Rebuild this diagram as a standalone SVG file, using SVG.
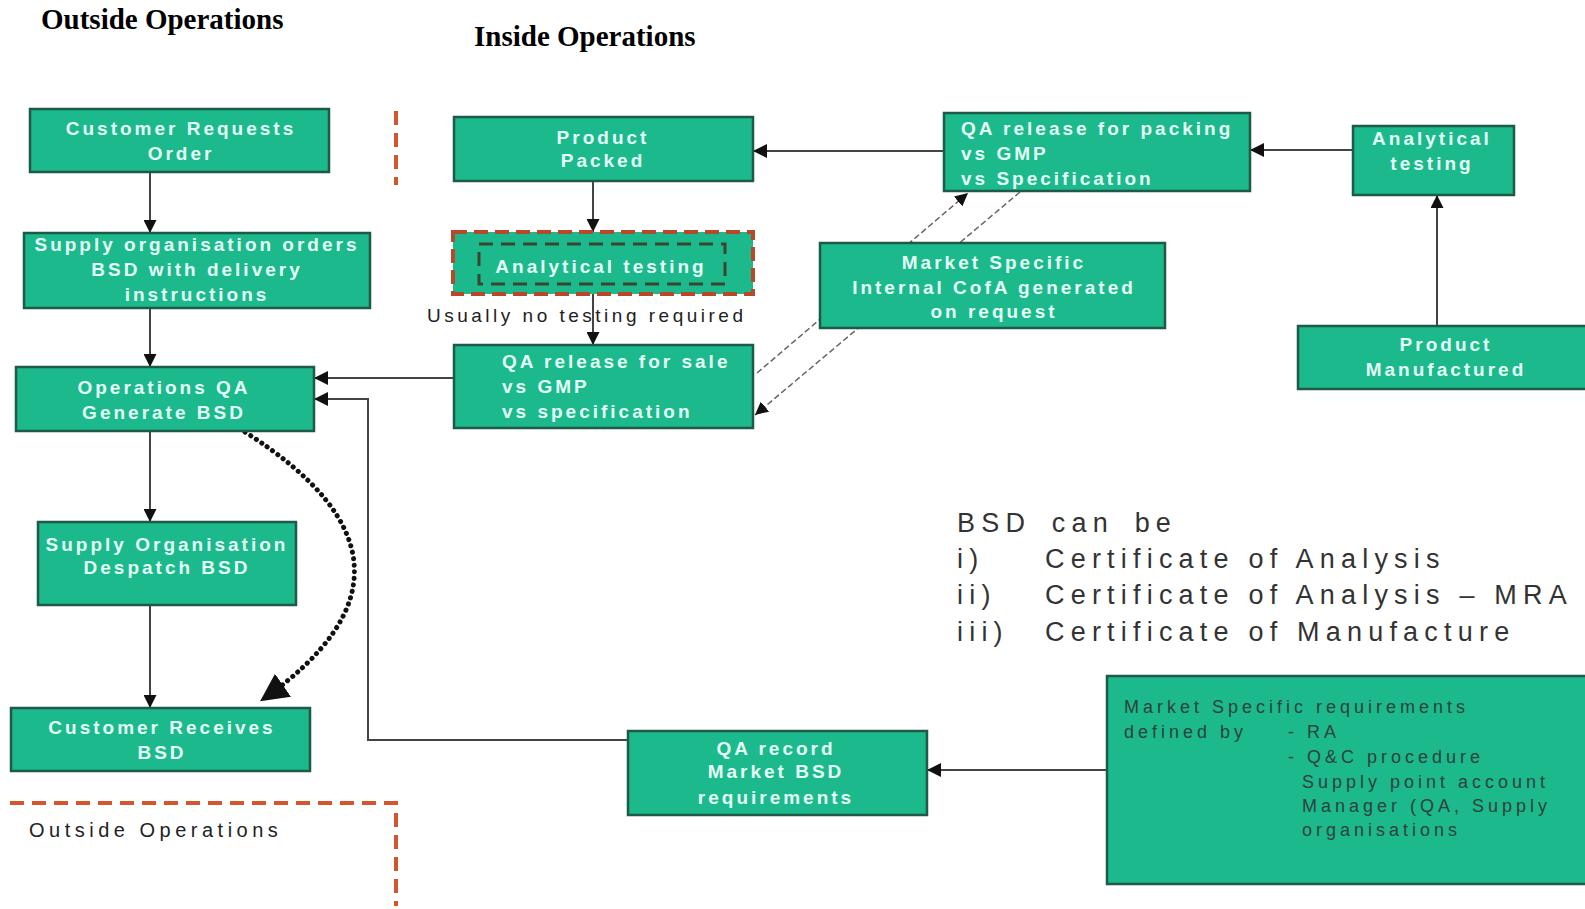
<svg xmlns="http://www.w3.org/2000/svg" width="1585" height="909" viewBox="0 0 1585 909">
<style>
.box{fill:#1bb98c;stroke:#1d5a47;stroke-width:2.5}
.t{font-family:"Liberation Sans",Arial,sans-serif;font-weight:bold;font-size:19px;fill:#e4fff5;letter-spacing:3px}
.c{text-anchor:middle}
.dk{font-family:"Liberation Sans",Arial,sans-serif;font-size:18px;fill:#2f423b;letter-spacing:4px}
.lbl{font-family:"Liberation Sans",Arial,sans-serif;font-size:19px;fill:#222;letter-spacing:3.5px}
.title{font-family:"Liberation Serif","Times New Roman",serif;font-weight:bold;font-size:29px;fill:#000}
.bsd{font-family:"Liberation Sans",Arial,sans-serif;font-size:27px;fill:#333;letter-spacing:6.2px}
.ln{stroke:#444;stroke-width:2;fill:none}
.red{stroke:#d4552c;stroke-width:4;fill:none;stroke-dasharray:14 8}
.dash{stroke:#666;stroke-width:1.5;fill:none;stroke-dasharray:6 3}
</style>
<defs>
<marker id="ah" viewBox="0 0 12 12" refX="12" refY="6" markerWidth="13" markerHeight="13" markerUnits="userSpaceOnUse" orient="auto"><path d="M0,0 L12,6 L0,12 z" fill="#111"/></marker>
<marker id="ahs" viewBox="0 0 12 12" refX="12" refY="6" markerWidth="14" markerHeight="14" markerUnits="userSpaceOnUse" orient="auto"><path d="M0,0 L12,6 L0,12 z" fill="#111"/></marker>
<marker id="ahb" viewBox="0 0 12 12" refX="11" refY="6" markerWidth="28" markerHeight="28" markerUnits="userSpaceOnUse" orient="auto"><path d="M0,0 L12,6 L0,12 z" fill="#111"/></marker>
</defs>
<rect width="1585" height="909" fill="#ffffff"/>

<g id="titles">
<text class="title" x="41" y="29">Outside Operations</text>
<text class="title" x="474" y="46">Inside Operations</text>
</g>

<g id="boundaries">
<line class="red" x1="396" y1="111" x2="396" y2="185" stroke-dasharray="12 6"/>
<polyline class="red" points="10,803 396,803 396,906"/>
<text class="lbl" x="29" y="837" style="letter-spacing:4.5px;font-size:20px">Outside Operations</text>
</g>

<g id="connectors">
<line class="ln" x1="150" y1="172" x2="150" y2="233" marker-end="url(#ah)"/>
<line class="ln" x1="150" y1="308" x2="150" y2="367" marker-end="url(#ah)"/>
<line class="ln" x1="150" y1="431" x2="150" y2="522" marker-end="url(#ah)"/>
<line class="ln" x1="150" y1="605" x2="150" y2="708" marker-end="url(#ah)"/>
<line class="ln" x1="593" y1="181" x2="593" y2="232" marker-end="url(#ah)"/>
<line class="ln" x1="593" y1="294" x2="593" y2="345" marker-end="url(#ah)"/>
<line class="ln" x1="454" y1="378" x2="314" y2="378" stroke="#111" marker-end="url(#ahs)"/>
<polyline class="ln" points="628,740 368,740 368,399 314,399" marker-end="url(#ahs)"/>
<line class="ln" x1="944" y1="151" x2="753" y2="151" stroke="#111" marker-end="url(#ahs)"/>
<line class="ln" x1="1353" y1="150" x2="1250" y2="150" stroke="#111" marker-end="url(#ahs)"/>
<line class="ln" x1="1437" y1="326" x2="1437" y2="195" stroke="#777" stroke-width="3" marker-end="url(#ah)"/>
<line class="ln" x1="1107" y1="770" x2="927" y2="770" stroke="#777" stroke-width="3" marker-end="url(#ahs)"/>
<line class="dash" x1="757" y1="373" x2="968" y2="193" marker-end="url(#ah)"/>
<line class="dash" x1="1020" y1="192" x2="755" y2="415" marker-end="url(#ah)"/>
<path d="M245,432 Q455,565 262,700" stroke="#111" stroke-width="5" fill="none" stroke-dasharray="0.1 6.5" stroke-linecap="round" marker-end="url(#ahb)"/>
</g>

<g id="n-customer-requests">
<rect class="box" x="30" y="109" width="299" height="63"/>
<text class="t c" x="181" y="135">Customer Requests</text>
<text class="t c" x="181" y="160">Order</text>
</g>
<g id="n-supply-orders">
<rect class="box" x="24" y="233" width="346" height="75"/>
<text class="t c" x="197" y="251">Supply organisation orders</text>
<text class="t c" x="197" y="276">BSD with delivery</text>
<text class="t c" x="197" y="301">instructions</text>
</g>
<g id="n-ops-qa">
<rect class="box" x="16" y="367" width="298" height="64"/>
<text class="t c" x="164" y="394">Operations QA</text>
<text class="t c" x="164" y="419">Generate BSD</text>
</g>
<g id="n-despatch">
<rect class="box" x="38" y="522" width="258" height="83"/>
<text class="t c" x="167" y="551">Supply Organisation</text>
<text class="t c" x="167" y="574">Despatch BSD</text>
</g>
<g id="n-customer-receives">
<rect class="box" x="11" y="708" width="299" height="63"/>
<text class="t c" x="162" y="734">Customer Receives</text>
<text class="t c" x="162" y="759">BSD</text>
</g>

<g id="n-product-packed">
<rect class="box" x="454" y="117" width="299" height="64"/>
<text class="t c" x="603" y="144">Product</text>
<text class="t c" x="603" y="167">Packed</text>
</g>
<g id="n-analytical-testing-1">
<rect x="453" y="232" width="300" height="62" fill="#1bb98c" stroke="#b8482a" stroke-width="4" stroke-dasharray="14 7"/>
<rect x="479" y="244" width="246" height="40" fill="none" stroke="#3b4630" stroke-width="3" stroke-dasharray="14 8"/>
<text class="t c" x="601" y="273">Analytical testing</text>
</g>
<text id="usually" class="lbl" x="427" y="322">Usually no testing required</text>
<g id="n-qa-release-sale">
<rect class="box" x="454" y="345" width="299" height="83"/>
<text class="t" x="502" y="368">QA release for sale</text>
<text class="t" x="502" y="393">vs GMP</text>
<text class="t" x="502" y="418">vs specification</text>
</g>
<g id="n-qa-release-packing">
<rect class="box" x="944" y="113" width="306" height="78"/>
<text class="t" x="961" y="135">QA release for packing</text>
<text class="t" x="961" y="160">vs GMP</text>
<text class="t" x="961" y="185">vs Specification</text>
</g>
<g id="n-market-cofa">
<rect class="box" x="820" y="243" width="345" height="85"/>
<text class="t c" x="994" y="269">Market Specific</text>
<text class="t c" x="994" y="294">Internal CofA generated</text>
<text class="t c" x="994" y="318">on request</text>
</g>
<g id="n-analytical-testing-2">
<rect class="box" x="1353" y="126" width="161" height="69"/>
<text class="t c" x="1432" y="145">Analytical</text>
<text class="t c" x="1432" y="170">testing</text>
</g>
<g id="n-product-manufactured">
<rect class="box" x="1298" y="326" width="300" height="63"/>
<text class="t c" x="1446" y="351">Product</text>
<text class="t c" x="1446" y="376">Manufactured</text>
</g>
<g id="n-qa-record">
<rect class="box" x="628" y="731" width="299" height="84"/>
<text class="t c" x="776" y="755">QA record</text>
<text class="t c" x="776" y="778">Market BSD</text>
<text class="t c" x="776" y="804">requirements</text>
</g>
<g id="n-market-requirements">
<rect class="box" x="1107" y="676" width="490" height="208"/>
<text class="dk" x="1124" y="713">Market Specific requirements</text>
<text class="dk" x="1124" y="738">defined by</text>
<text class="dk" x="1288" y="738">- RA</text>
<text class="dk" x="1288" y="763">- Q&amp;C procedure</text>
<text class="dk" x="1302" y="788">Supply point account</text>
<text class="dk" x="1302" y="812">Manager (QA, Supply</text>
<text class="dk" x="1302" y="836">organisations</text>
</g>

<g id="bsd-note">
<text class="bsd" x="957" y="532" style="word-spacing:7px">BSD can be</text>
<text class="bsd" x="957" y="568">i)</text>
<text class="bsd" x="1045" y="568">Certificate of Analysis</text>
<text class="bsd" x="957" y="604">ii)</text>
<text class="bsd" x="1045" y="604">Certificate of Analysis – MRA</text>
<text class="bsd" x="957" y="641">iii)</text>
<text class="bsd" x="1045" y="641">Certificate of Manufacture</text>
</g>
</svg>
